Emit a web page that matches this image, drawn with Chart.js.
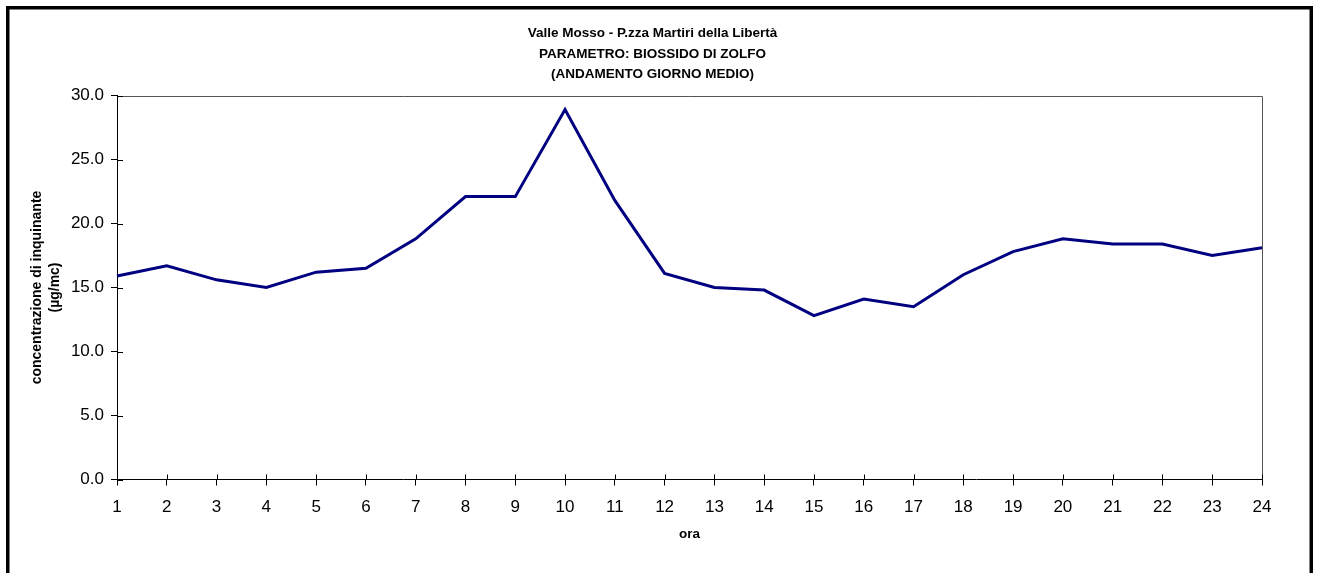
<!DOCTYPE html>
<html>
<head>
<meta charset="utf-8">
<script src="https://cdn.jsdelivr.net/npm/chart.js@4/dist/chart.umd.min.js"></script>
<style>
  html, body { margin: 0; padding: 0; background: #ffffff; }
  #wrap { position: relative; width: 1317px; height: 573px; }
</style>
</head>
<body>
<div id="wrap"><canvas id="c" width="1317" height="573"></canvas></div>
<script>
// Hour of day (average day profile)
const hours = ['1','2','3','4','5','6','7','8','9','10','11','12','13','14','15','16','17','18','19','20','21','22','23','24'];
// SO2 concentration, µg/mc
const so2 = [15.9, 16.7, 15.6, 15.0, 16.2, 16.5, 18.8, 22.1, 22.1, 28.9, 21.8, 16.1,
             15.0, 14.8, 12.8, 14.1, 13.5, 16.0, 17.8, 18.8, 18.4, 18.4, 17.5, 18.1];
// Y axis range
const yMin = 0, yMax = 30, yStep = 5;
// Titles
const titleLines = ['Valle Mosso - P.zza Martiri della Libertà', 'PARAMETRO: BIOSSIDO DI ZOLFO', '(ANDAMENTO GIORNO MEDIO)'];
const yTitle = ['concentrazione di inquinante', '(µg/mc)'];
const xTitle = 'ora';

const FONT = "'Liberation Sans', Arial, sans-serif";

// Outer frame, chart title and the plot-area border
const framePlugin = {
  id: 'frame',
  beforeDraw(chart) {
    const ctx = chart.ctx;
    ctx.save();
    ctx.fillStyle = '#ffffff';
    ctx.fillRect(0, 0, chart.width, chart.height);
    ctx.strokeStyle = '#000000';
    ctx.lineWidth = 3.5;
    ctx.strokeRect(7.75, 7.75, 1303.5, 800);
    ctx.fillStyle = '#000000';
    ctx.font = 'bold 13.5px ' + FONT;
    ctx.textAlign = 'center';
    ctx.textBaseline = 'middle';
    const cx = (chart.chartArea.left + chart.chartArea.right) / 2 - 37;
    titleLines.forEach((t, i) => ctx.fillText(t, cx, 33.5 + i * 20.5));
    ctx.restore();
  },
  beforeDatasetsDraw(chart) {
    const { ctx, chartArea: a } = chart;
    ctx.save();
    ctx.strokeStyle = '#555555';
    ctx.lineWidth = 1;
    ctx.beginPath();
    ctx.moveTo(a.left, Math.round(a.top) + 0.5);
    ctx.lineTo(Math.round(a.right) + 0.5, Math.round(a.top) + 0.5);
    ctx.lineTo(Math.round(a.right) + 0.5, a.bottom);
    ctx.stroke();
    // inner half of the tick marks, so they cross the axes
    ctx.strokeStyle = '#000000';
    const ys = chart.scales.y, xs = chart.scales.x;
    ctx.beginPath();
    ys.ticks.forEach((t, i) => {
      const y = Math.round(ys.getPixelForTick(i)) + 0.5;
      ctx.moveTo(a.left, y);
      ctx.lineTo(a.left + 6, y);
    });
    xs.ticks.forEach((t, i) => {
      const x = Math.round(xs.getPixelForTick(i)) + 0.5;
      ctx.moveTo(x, a.bottom);
      ctx.lineTo(x, a.bottom - 5);
    });
    ctx.stroke();
    ctx.restore();
  }
};

new Chart(document.getElementById('c'), {
  type: 'line',
  data: {
    labels: hours,
    datasets: [{
      data: so2,
      borderColor: '#000080',
      borderWidth: 3,
      pointRadius: 0,
      tension: 0,
      fill: false
    }]
  },
  options: {
    responsive: false,
    animation: false,
    devicePixelRatio: 1,
    layout: { padding: { top: 95.5, right: 55, left: 0, bottom: 0 } },
    plugins: {
      legend: { display: false },
      title: { display: false },
      tooltip: { enabled: false }
    },
    scales: {
      x: {
        type: 'category',
        offset: false,
        grid: { drawOnChartArea: false, color: '#000000', tickLength: 6, lineWidth: 1 },
        border: { color: '#000000', width: 1 },
        ticks: { color: '#000000', font: { family: FONT, size: 17 }, padding: 12, maxRotation: 0, autoSkip: false },
        title: { display: true, text: xTitle, color: '#000000', font: { family: FONT, size: 13.5, weight: 'bold' }, padding: { top: 0, bottom: 31 } },
        afterFit(scale) { scale.height = 93.5; }
      },
      y: {
        min: yMin,
        max: yMax,
        grid: { drawOnChartArea: false, color: '#000000', tickLength: 6, lineWidth: 1 },
        border: { color: '#000000', width: 1 },
        ticks: {
          stepSize: yStep,
          color: '#000000',
          font: { family: FONT, size: 17 },
          padding: 7,
          callback: v => Number(v).toFixed(1)
        },
        title: { display: true, text: yTitle, color: '#000000', font: { family: FONT, size: 14, weight: 'bold', lineHeight: 1.3 }, padding: { top: 28, bottom: 0 } },
        afterFit(scale) { scale.width = 117; }
      }
    }
  },
  plugins: [framePlugin]
});
</script>
</body>
</html>
